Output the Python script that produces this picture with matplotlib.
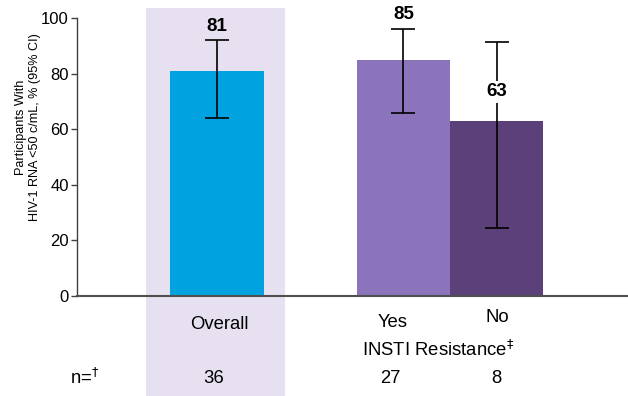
import matplotlib
matplotlib.use("Agg")
import matplotlib.pyplot as plt
from matplotlib.patches import Rectangle

plt.rcParams['font.family'] = ['Liberation Sans', 'DejaVu Sans']

# data
groups = ["Overall", "Yes", "No"]
values = [81, 85, 63]
ci_low = [64, 66, 24.5]
ci_high = [92, 96, 91.5]
n_counts = ["36", "27", "8"]
colors = ["#00A3E0", "#8B74BC", "#5C4079"]
xpos = [0, 2, 3]

fig = plt.figure(figsize=(6.28, 3.96), dpi=100)
ax = fig.add_axes([0.1226, 0.2525, 0.8774, 0.702])

# shaded band behind the Overall column
band = Rectangle((-0.76, -36), 1.49, 139.6, facecolor="#E6E0F0", edgecolor="none",
                 zorder=0, clip_on=False)
ax.add_patch(band)

ax.bar(xpos, values, width=1.0, color=colors, zorder=2)
yerr = [[v - lo for v, lo in zip(values, ci_low)], [hi - v for v, hi in zip(values, ci_high)]]
ax.errorbar(xpos, values, yerr=yerr, fmt="none", ecolor="black", elinewidth=1.2,
            capsize=8.6, capthick=1.2, zorder=3)

# value labels
label_y = [96.8, 101.4, 73.4]
for i, (x, v) in enumerate(zip(xpos, values)):
    kw = dict(ha="center", va="center", fontsize=13.5, fontweight="bold", zorder=5)
    if i == 2:
        kw["bbox"] = dict(facecolor="white", edgecolor="none", pad=1.5)
    ax.text(x, label_y[i], str(v), **kw)

ax.set_xlim(-1.502, 4.41)
ax.set_ylim(0, 100)
ax.set_yticks([0, 20, 40, 60, 80, 100])
ax.set_xticks([])
ax.tick_params(axis="y", labelsize=12, length=4, width=1, color="#404040", pad=2)
for s in ["top", "right"]:
    ax.spines[s].set_visible(False)
ax.spines["left"].set_color("#404040")
ax.spines["bottom"].set_color("#505050")
ax.spines["bottom"].set_linewidth(1.5)
ax.spines["left"].set_linewidth(1)

# category labels below axis
ax.text(0.03, -10.4, "Overall", ha="center", va="center", fontsize=13.3, clip_on=False)
ax.text(1.89, -9.4, "Yes", ha="center", va="center", fontsize=13.3, clip_on=False)
ax.text(3.01, -7.6, "No", ha="center", va="center", fontsize=13.3, clip_on=False)
ax.text(2.37, -19.4, "INSTI Resistance$^{‡}$", ha="center", va="center", fontsize=13.3,
        clip_on=False)
ax.text(-1.42, -29.5, "n=$^{†}$", ha="center", va="center", fontsize=13.3, clip_on=False)
for x, n in zip([-0.04, 1.86, 3.0], n_counts):
    ax.text(x, -29.5, n, ha="center", va="center", fontsize=13.3, clip_on=False)

fig.text(28 / 628, 1 - 127 / 396, "Participants With\nHIV-1 RNA <50 c/mL, % (95% CI)",
         rotation=90, ha="center", va="center", fontsize=9.1, multialignment="center")

fig.savefig("out.png", dpi=100)
